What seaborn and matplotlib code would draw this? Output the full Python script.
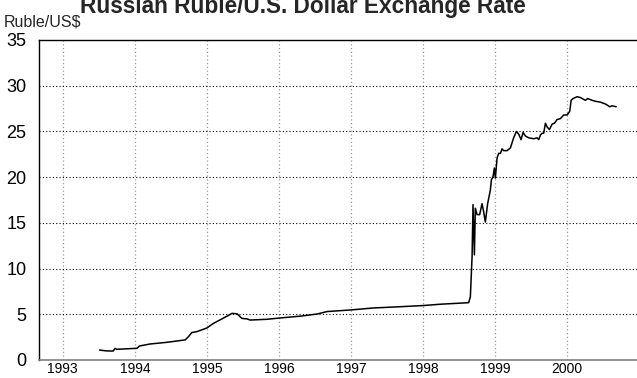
import matplotlib
matplotlib.use("Agg")
import matplotlib.pyplot as plt
import seaborn as sns
import pandas as pd

# Ruble per US dollar, decimal year vs. rate
years = [
    1993.51, 1993.60, 1993.70, 1993.726, 1993.75, 1994.03, 1994.064, 1994.21,
    1994.44, 1994.70, 1994.744, 1994.79, 1994.86, 1995.00, 1995.09, 1995.21,
    1995.35, 1995.42, 1995.453, 1995.486, 1995.556, 1995.60, 1995.83, 1996.02,
    1996.30, 1996.53, 1996.67, 1996.99, 1997.31, 1997.69, 1998.01, 1998.24,
    1998.633, 1998.657, 1998.681, 1998.694, 1998.713, 1998.726, 1998.75,
    1998.786, 1998.819, 1998.842, 1998.865, 1998.897, 1998.935, 1998.949,
    1998.972, 1998.99, 1999.004, 1999.028, 1999.05, 1999.074, 1999.097,
    1999.119, 1999.167, 1999.213, 1999.258, 1999.296, 1999.328, 1999.361,
    1999.389, 1999.421, 1999.467, 1999.536, 1999.583, 1999.606, 1999.629,
    1999.653, 1999.675, 1999.699, 1999.722, 1999.754, 1999.792, 1999.824,
    1999.861, 1999.907, 1999.953, 2000.00, 2000.036, 2000.056, 2000.083,
    2000.139, 2000.185, 2000.231, 2000.254, 2000.286, 2000.347, 2000.393,
    2000.463, 2000.532, 2000.592, 2000.625, 2000.681,
]
rates = [
    1.09, 1.00, 0.98, 1.27, 1.17, 1.28, 1.53, 1.75,
    1.93, 2.20, 2.55, 3.00, 3.10, 3.50, 4.00, 4.50,
    5.10, 5.05, 4.80, 4.55, 4.50, 4.37, 4.45, 4.60,
    4.80, 5.03, 5.30, 5.47, 5.69, 5.83, 5.96, 6.10,
    6.27, 6.90, 11.3, 17.0, 11.5, 16.6, 15.9,
    15.9, 17.1, 16.2, 15.1, 17.1, 18.6, 19.7,
    20.05, 21.0, 19.9, 22.1, 22.6, 22.6, 23.1,
    22.9, 22.9, 23.2, 24.3, 25.0, 24.7, 24.1,
    24.9, 24.5, 24.3, 24.2, 24.3, 24.1, 24.6,
    24.8, 24.8, 25.9, 25.5, 25.2, 25.8, 25.9,
    26.3, 26.4, 26.8, 26.8, 27.2, 28.4, 28.6,
    28.8, 28.7, 28.5, 28.4, 28.6, 28.4, 28.3,
    28.2, 28.0, 27.7, 27.8, 27.7,
]
year_ticks = [1993, 1994, 1995, 1996, 1997, 1998, 1999, 2000]
rate_ticks = [0, 5, 10, 15, 20, 25, 30, 35]

df = pd.DataFrame({"year": years, "rate": rates})

sns.set_theme(style="white")
plt.rcParams["font.family"] = ["Liberation Sans", "DejaVu Sans"]

fig = plt.figure(figsize=(6.37, 3.78), dpi=100)
ax = fig.add_axes([39 / 637, 18 / 378, 1 - 39 / 637, 320 / 378])

sns.lineplot(data=df, x="year", y="rate", ax=ax, color="black",
             linewidth=1.1, estimator=None, sort=False)

ax.set_xlim(1992.67, 2000.97)
ax.set_ylim(0, 35)
ax.set_xticks(year_ticks)
ax.set_xticklabels([str(y) for y in year_ticks], fontsize=10)
ax.set_yticks(rate_ticks)
ax.set_yticklabels([str(v) for v in rate_ticks], fontsize=13)
ax.tick_params(axis="x", length=0, pad=1.5, colors="black")
ax.tick_params(axis="y", length=0, pad=9, colors="black")
ax.set_xlabel("")
ax.set_ylabel("")

# dotted grid: grey verticals at each year, black horizontals between 0 and 35
for yr in year_ticks:
    ax.axvline(yr, color="#999999", linestyle=(0, (1, 2)), linewidth=0.9, zorder=0)
for v in rate_ticks[1:-1]:
    ax.axhline(v, color="black", linestyle=(0, (1, 2)), linewidth=0.8, zorder=0)

for side in ("left", "top"):
    ax.spines[side].set_visible(True)
    ax.spines[side].set_color("black")
    ax.spines[side].set_linewidth(1.0)
ax.spines["bottom"].set_color("#808080")
ax.spines["bottom"].set_linewidth(1.2)
ax.spines["right"].set_visible(False)

fig.text(0.476, 1 - 13 / 378, "Russian Ruble/U.S. Dollar Exchange Rate",
         ha="center", va="baseline", fontsize=16.3, fontweight="bold")
fig.text(4 / 637, 1 - 27 / 378, "Ruble/US$", ha="left", va="baseline",
         fontsize=11.5)

fig.savefig("out.png", dpi=100)
